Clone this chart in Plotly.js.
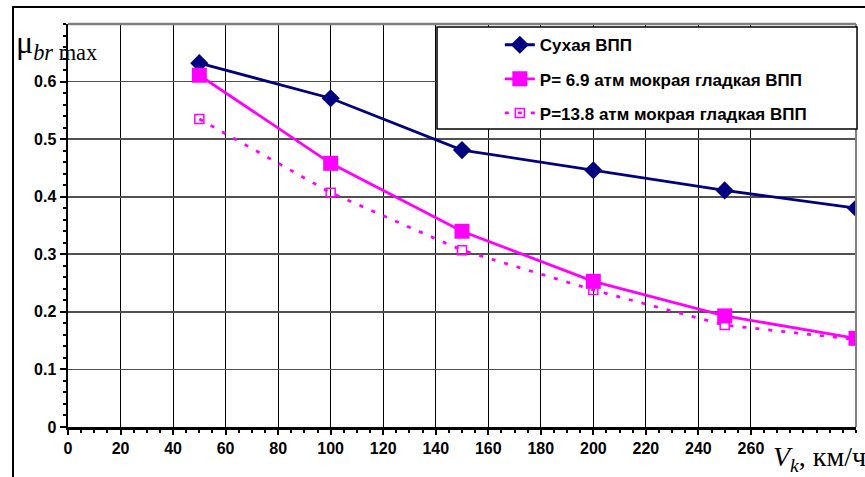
<!DOCTYPE html>
<html>
<head>
<meta charset="utf-8">
<script src="https://cdn.plot.ly/plotly-3.0.1.min.js"></script>
<style>html,body{margin:0;padding:0;background:#fff;}#chart{width:865px;height:477px;}</style>
</head>
<body>
<div id="chart"></div>
<script>
const speeds = [50, 100, 150, 200, 250, 300];
const dryRunway = [0.632, 0.571, 0.481, 0.446, 0.411, 0.380];
const wet69 = [0.611, 0.458, 0.340, 0.253, 0.193, 0.154];
const wet138 = [0.535, 0.407, 0.307, 0.238, 0.177, 0.152];
const seriesNames = ['Сухая ВПП', 'P= 6.9 атм мокрая гладкая ВПП', 'P=13.8 атм мокрая гладкая ВПП'];
const xTickVals = [0, 20, 40, 60, 80, 100, 120, 140, 160, 180, 200, 220, 240, 260];
const yTickVals = [0, 0.1, 0.2, 0.3, 0.4, 0.5, 0.6];

const traces = [
  {x: speeds, y: dryRunway, name: '<b>' + seriesNames[0] + '</b>', mode: 'lines+markers', legendgroup: 'a',
   line: {color: '#000080', width: 2.8}, marker: {symbol: 'diamond', size: 14, color: '#000080'}},
  {x: speeds, y: wet69, name: '<b>' + seriesNames[1] + '</b>', mode: 'lines+markers', legendgroup: 'b',
   line: {color: '#FF00FF', width: 2.8}, marker: {symbol: 'square', size: 15, color: '#FF00FF'}},
  {x: speeds, y: wet138, name: '<b>' + seriesNames[2] + '</b>', mode: 'lines+markers', legendgroup: 'c',
   line: {color: '#FF00FF', width: 2.8, dash: '4px,9px'},
   marker: {symbol: 'square-open', size: 9, color: '#FF00FF', line: {width: 1.5, color: '#FF00FF'}}}
];

const layout = {
  width: 865, height: 477,
  margin: {l: 68, r: 9, t: 24, b: 50},
  paper_bgcolor: '#fff', plot_bgcolor: '#fff',
  font: {family: 'Liberation Sans, Arial, sans-serif', size: 16, color: '#000'},
  showlegend: true,
  legend: {x: 0.548, xanchor: 'left', y: 0.992, yanchor: 'top', bgcolor: 'rgba(0,0,0,0)',
    borderwidth: 0, tracegroupgap: 9, traceorder: 'grouped',
    font: {family: 'Liberation Sans, Arial, sans-serif', size: 17, color: '#000'}},
  xaxis: {range: [0, 300], tickvals: xTickVals, ticktext: xTickVals.map(v => '<b>' + v + '</b>'),
    showgrid: true, gridcolor: '#000', gridwidth: 1,
    showline: true, linecolor: '#000', linewidth: 2.5, mirror: false,
    ticks: 'outside', ticklen: 5, tickwidth: 2, tickcolor: '#000',
    minor: {dtick: 5, ticks: 'outside', ticklen: 3, tickwidth: 2, tickcolor: '#000', showgrid: false},
    tickfont: {family: 'Liberation Sans, Arial, sans-serif', size: 16, color: '#000'},
    zeroline: false, fixedrange: true},
  yaxis: {range: [0, 0.7], tickvals: yTickVals, ticktext: yTickVals.map(v => '<b>' + v + '</b>'),
    showgrid: true, gridcolor: '#505050', gridwidth: 1.6,
    showline: true, linecolor: '#000', linewidth: 2.5,
    ticks: 'outside', ticklen: 6, tickwidth: 2, tickcolor: '#000',
    minor: {dtick: 0.02, ticks: 'outside', ticklen: 3, tickwidth: 2, tickcolor: '#000', showgrid: false},
    tickfont: {family: 'Liberation Sans, Arial, sans-serif', size: 16, color: '#000'},
    zeroline: false, fixedrange: true},
  shapes: [
    {type: 'line', xref: 'paper', yref: 'paper', x0: 0, x1: 1, y0: 1, y1: 1, line: {color: '#808080', width: 2.5}},
    {type: 'line', xref: 'paper', yref: 'paper', x0: 1, x1: 1, y0: 0, y1: 1, line: {color: '#808080', width: 2}},
    {type: 'rect', xref: 'paper', yref: 'paper', x0: -0.0698, x1: 1.03, y0: -0.2, y1: 1.042,
     line: {color: '#000', width: 2}, fillcolor: 'rgba(0,0,0,0)', layer: 'below'},
    {type: 'rect', xref: 'paper', yref: 'paper', x0: 0.4683, x1: 1.0013, y0: 0.7395, y1: 0.9926,
     line: {color: '#000', width: 1.5}, fillcolor: '#fff', layer: 'above'}
  ],
  annotations: [
    {xref: 'paper', yref: 'paper', x: -0.068, y: 1.005, xanchor: 'left', yanchor: 'top', showarrow: false,
     text: 'μ<sub><i>br</i> max</sub>', font: {family: 'Liberation Serif, Times New Roman, serif', size: 32, color: '#000'}},
    {xref: 'paper', yref: 'paper', x: 1.015, y: -0.03, xanchor: 'right', yanchor: 'top', showarrow: false,
     text: '<i>V</i><sub><i>k</i></sub>, км/ч', font: {family: 'Liberation Serif, Times New Roman, serif', size: 28, color: '#000'}}
  ]
};

Plotly.newPlot('chart', traces, layout, {displayModeBar: false, staticPlot: true});
</script>
</body>
</html>
